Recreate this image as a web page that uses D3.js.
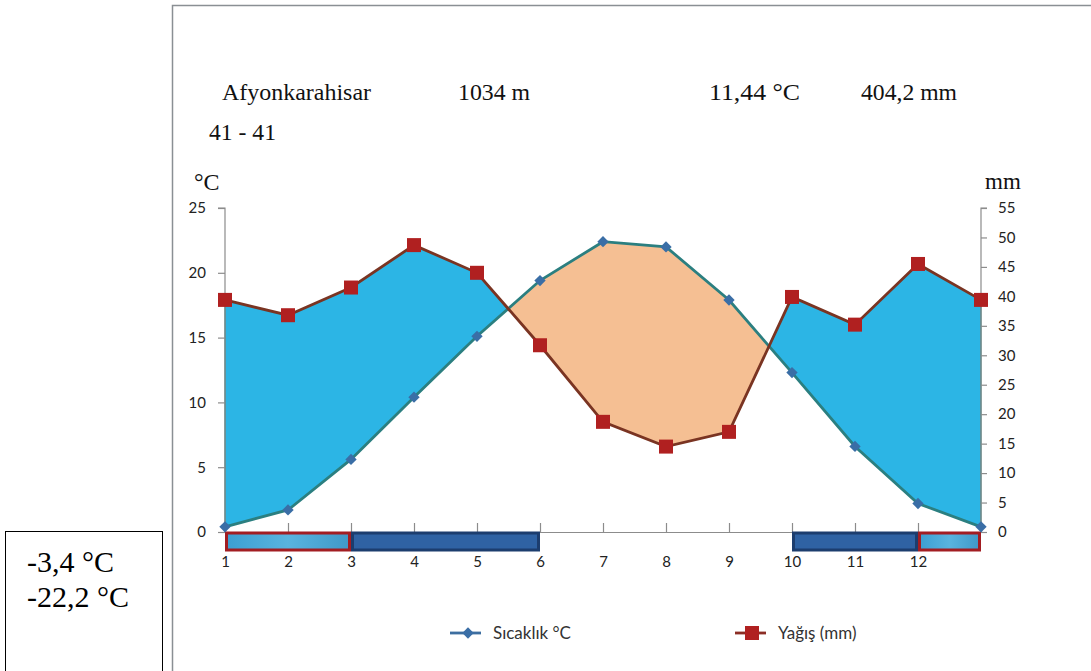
<!DOCTYPE html>
<html>
<head>
<meta charset="utf-8">
<script src="https://cdn.jsdelivr.net/npm/d3@7"></script>
<style>
  html, body { margin: 0; padding: 0; background: #fff; }
  svg { display: block; }
</style>
</head>
<body>
<svg id="chart" width="1091" height="671"></svg>
<script>
// ---- data ----
const months = [1, 2, 3, 4, 5, 6, 7, 8, 9, 10, 11, 12, 13];
const monthLabels = ["1", "2", "3", "4", "5", "6", "7", "8", "9", "10", "11", "12", ""];
const temperature = [0.4, 1.7, 5.6, 10.4, 15.1, 19.4, 22.4, 22.0, 17.9, 12.3, 6.6, 2.2, 0.4];
const precipitation = [39.4, 36.8, 41.5, 48.7, 44.0, 31.7, 18.7, 14.5, 17.0, 39.9, 35.2, 45.5, 39.4];
const tempTicks = [0, 5, 10, 15, 20, 25];
const precTicks = [0, 5, 10, 15, 20, 25, 30, 35, 40, 45, 50, 55];
const frostStart = [1, 3, 10, 12];
const frostEnd = [3, 6, 12, 13];
const frostType = ["possible", "certain", "certain", "possible"];
const station = "Afyonkarahisar";
const stationPeriod = "41 - 41";
const altitude = "1034 m";
const meanTemp = "11,44 °C";
const totalPrec = "404,2 mm";
const extremes = ["-3,4 °C", "-22,2 °C"];
const seriesNames = ["Sıcaklık °C", "Yağış (mm)"];

const data = months.map((m, i) => ({ m, t: temperature[i], p: precipitation[i] }));

const svg = d3.select("#chart");
const x = d3.scaleLinear().domain([1, 13]).range([225, 981]);
const yT = d3.scaleLinear().domain([0, 25]).range([532, 208]);
const yP = d3.scaleLinear().domain([0, 55]).range([532, 208]);

// outer frame
svg.append("rect").attr("x", 172.5).attr("y", 5.5).attr("width", 1000).attr("height", 700)
  .attr("fill", "none").attr("stroke", "#8a8f94").attr("stroke-width", 1.5);

// left info box
const serif = "Liberation Serif, Times New Roman, serif";
svg.append("rect").attr("x", 5.5).attr("y", 531.5).attr("width", 157).attr("height", 160)
  .attr("fill", "#fff").attr("stroke", "#000").attr("stroke-width", 1);
svg.selectAll("text.ext").data(extremes).enter().append("text")
  .attr("x", 27).attr("y", (d, i) => 572 + i * 35)
  .attr("font-family", serif).attr("font-size", 30)
  .attr("fill", "#000").text(d => d);

// header texts
const hdr = svg.append("g").attr("font-family", serif).attr("font-size", 24).attr("fill", "#111");
hdr.append("text").attr("x", 222).attr("y", 100).attr("textLength", 149).attr("lengthAdjust", "spacingAndGlyphs").text(station);
hdr.append("text").attr("x", 458).attr("y", 100).attr("textLength", 72).attr("lengthAdjust", "spacingAndGlyphs").text(altitude);
hdr.append("text").attr("x", 709).attr("y", 100).attr("textLength", 91).attr("lengthAdjust", "spacingAndGlyphs").text(meanTemp);
hdr.append("text").attr("x", 861).attr("y", 100).attr("textLength", 96).attr("lengthAdjust", "spacingAndGlyphs").text(totalPrec);
hdr.append("text").attr("x", 209).attr("y", 140).attr("textLength", 67).attr("lengthAdjust", "spacingAndGlyphs").text(stationPeriod);
hdr.append("text").attr("x", 194).attr("y", 190).text("°C");
hdr.append("text").attr("x", 985).attr("y", 189).attr("font-size", 23).text("mm");

// fills (difference chart)
const ptT = d => yT(d.t);
const ptP = d => yP(d.p);
const defs = svg.append("defs");
defs.append("clipPath").attr("id", "belowP").append("path").datum(data)
  .attr("d", d3.area().x(d => x(d.m)).y0(532).y1(ptP));
defs.append("clipPath").attr("id", "belowT").append("path").datum(data)
  .attr("d", d3.area().x(d => x(d.m)).y0(532).y1(ptT));
const grad = defs.append("linearGradient").attr("id", "possGrad").attr("x1", 0).attr("x2", 1);
grad.append("stop").attr("offset", "0%").attr("stop-color", "#3c9fd2");
grad.append("stop").attr("offset", "50%").attr("stop-color", "#59b4df");
grad.append("stop").attr("offset", "100%").attr("stop-color", "#3f98c8");

svg.append("path").datum(data).attr("clip-path", "url(#belowP)")
  .attr("d", d3.area().x(d => x(d.m)).y0(ptT).y1(0))
  .attr("fill", "#2cb5e5");
svg.append("path").datum(data).attr("clip-path", "url(#belowT)")
  .attr("d", d3.area().x(d => x(d.m)).y0(ptP).y1(0))
  .attr("fill", "#f5bf93");

// edge lines of fill at both ends
svg.append("line").attr("x1", x(1)).attr("x2", x(1)).attr("y1", yP(precipitation[0])).attr("y2", yT(temperature[0]))
  .attr("stroke", "#2b8585").attr("stroke-width", 1.2);
svg.append("line").attr("x1", x(13)).attr("x2", x(13)).attr("y1", yP(precipitation[12])).attr("y2", yT(temperature[12]))
  .attr("stroke", "#2b8585").attr("stroke-width", 1.2);

// axes
const axisColor = "#8c8c8c";
const sans = "Lato, 'Noto Sans', sans-serif";
const gL = svg.append("g").attr("transform", `translate(${x(1)},0)`)
  .call(d3.axisLeft(yT).tickValues(tempTicks).tickSize(7).tickPadding(12).tickFormat(d3.format("d")));
const gR = svg.append("g").attr("transform", `translate(${x(13)},0)`)
  .call(d3.axisRight(yP).tickValues(precTicks).tickSize(6).tickPadding(11).tickFormat(d3.format("d")));
const gX = svg.append("g").attr("transform", `translate(0,${yT(0)})`)
  .call(d3.axisBottom(x).tickValues(months).tickSize(0).tickPadding(0).tickFormat((d, i) => monthLabels[i]));
[gL, gR, gX].forEach(g => {
  g.select(".domain").attr("stroke", axisColor).attr("stroke-width", 1.2);
  g.selectAll(".tick line").attr("stroke", axisColor).attr("stroke-width", 1.2);
  g.selectAll("text").attr("font-family", sans).attr("font-size", 15).attr("fill", "#222");
});
gL.select(".domain").attr("d", `M-7,${yT(25)}H0V${yT(0)}`);
gR.select(".domain").attr("d", `M6,${yP(55)}H0V${yP(0)}`);
gX.selectAll(".tick line").attr("y1", -9).attr("y2", 0);
gX.selectAll(".tick text").attr("dy", 0).attr("y", 35);

// frost bars
const barG = svg.append("g");
frostStart.forEach((s, i) => {
  const poss = frostType[i] === "possible";
  barG.append("rect")
    .attr("x", x(s) + 1.5).attr("y", 533)
    .attr("width", x(frostEnd[i]) - x(s) - 3).attr("height", 17)
    .attr("fill", poss ? "url(#possGrad)" : "#2f62a3")
    .attr("stroke", poss ? "#a21d22" : "#1c3d6e").attr("stroke-width", 3);
});

// lines
const lineT = d3.line().x(d => x(d.m)).y(ptT);
const lineP = d3.line().x(d => x(d.m)).y(ptP);
svg.append("path").datum(data).attr("d", lineT).attr("fill", "none")
  .attr("stroke", "#2b7f80").attr("stroke-width", 2.8);
svg.append("path").datum(data).attr("d", lineP).attr("fill", "none")
  .attr("stroke", "#7a3422").attr("stroke-width", 2.8);

// markers
svg.selectAll("path.dia").data(data).enter().append("path")
  .attr("transform", d => `translate(${x(d.m)},${yT(d.t)}) rotate(45)`)
  .attr("d", d3.symbol(d3.symbolSquare, 64)())
  .attr("fill", "#3a6ea6");
svg.selectAll("rect.sq").data(data).enter().append("rect")
  .attr("x", d => x(d.m) - 7).attr("y", d => yP(d.p) - 7)
  .attr("width", 14).attr("height", 14)
  .attr("fill", "#b02020");

// legend
const lg = svg.append("g").attr("font-family", sans).attr("font-size", 17).attr("fill", "#333");
const lgX = [450, 735];
const lgColors = ["#3d6ea0", "#8c2e25"];
lgX.forEach((lx, i) => {
  lg.append("line").attr("x1", lx).attr("x2", lx + 31).attr("y1", 633).attr("y2", 633)
    .attr("stroke", lgColors[i]).attr("stroke-width", 2.8);
  if (i === 0) {
    lg.append("path").attr("transform", `translate(${lx + 18},633) rotate(45)`)
      .attr("d", d3.symbol(d3.symbolSquare, 64)()).attr("fill", "#3a6ea6");
  } else {
    lg.append("rect").attr("x", lx + 10).attr("y", 626).attr("width", 14).attr("height", 14).attr("fill", "#b02020");
  }
  lg.append("text").attr("x", lx + 43).attr("y", 639).text(seriesNames[i]);
});
</script>
</body>
</html>
